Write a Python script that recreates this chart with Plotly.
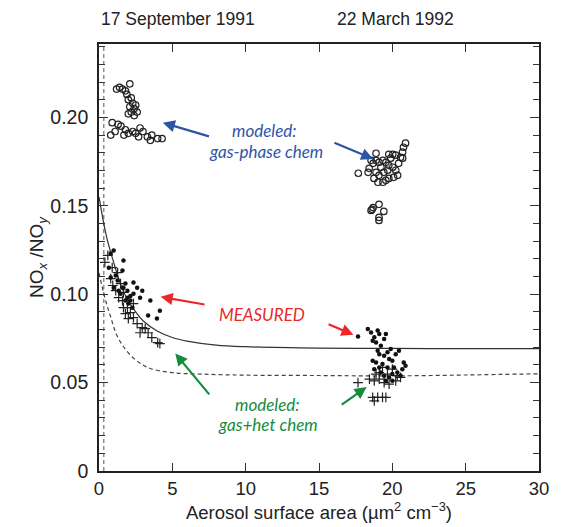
import plotly.graph_objects as go

# ---- curves ----
solid_x = [0, 0.5, 1, 1.5, 2, 2.5, 3, 4, 5, 6, 8, 10, 15, 20, 25, 30]
solid_y = [0.155, 0.133, 0.118, 0.105, 0.096, 0.090, 0.085, 0.079, 0.0755, 0.0735, 0.0712, 0.0703, 0.0695, 0.0693, 0.0692, 0.0692]
dash_x = [0, 0.4, 0.8, 1.2, 1.7, 2.2, 2.8, 3.5, 5, 7, 10, 15, 20, 25, 30]
dash_y = [0.112, 0.098, 0.087, 0.077, 0.070, 0.065, 0.061, 0.058, 0.0556, 0.0548, 0.0542, 0.054, 0.0538, 0.0543, 0.055]
vdash_x = [0.33, 0.33]
vdash_y = [0.0, 0.24]

# ---- modeled gas-phase (open circles) ----
gas_x = [1.2, 1.4, 1.6, 1.8, 2.1, 1.9, 2.0, 2.2, 2.3, 2.1, 2.4, 2.5, 2.2, 2.4, 2.6, 2.0,
         0.9, 1.1, 0.8, 1.5, 1.8, 1.7, 2.0, 2.3, 2.5, 2.8, 3.0, 3.3, 3.6, 3.5, 4.0, 4.3, 1.3, 2.7,
         20.9, 20.76, 20.7, 20.56, 20.23, 20.03, 19.76, 18.89, 18.55, 18.69, 18.35, 17.68, 18.42,
         18.89, 19.09, 19.36, 19.56, 19.76, 20.03, 20.23, 20.36, 20.09, 19.76, 19.56, 19.36, 19.02,
         18.75, 19.09, 19.42, 19.69, 18.89, 19.22, 19.89, 20.43, 20.7,
         18.55, 18.69, 19.09, 19.42, 19.09, 19.09, 18.62]
gas_y = [0.216, 0.217, 0.216, 0.215, 0.219, 0.213, 0.210, 0.211, 0.208, 0.206, 0.205, 0.207, 0.203, 0.201, 0.203, 0.202,
         0.197, 0.192, 0.190, 0.195, 0.193, 0.190, 0.191, 0.192, 0.191, 0.194, 0.192, 0.189, 0.190, 0.187, 0.188, 0.188, 0.196, 0.189,
         0.1854, 0.1831, 0.1803, 0.1774, 0.1786, 0.1791, 0.1791, 0.1797, 0.1757, 0.174, 0.1689, 0.1684, 0.1712,
         0.1757, 0.1746, 0.1757, 0.1746, 0.1729, 0.1718, 0.1701, 0.1672, 0.1661, 0.1655, 0.1644, 0.1633, 0.1633,
         0.1655, 0.1672, 0.1689, 0.1701, 0.1689, 0.1718, 0.1769, 0.174, 0.1769,
         0.1474, 0.149, 0.1508, 0.1468, 0.1434, 0.1417, 0.148]

# ---- measured (filled dots) ----
meas_x = [0.8, 1.0, 1.67, 0.67, 1.6, 2.35, 2.95, 2.8, 3.5, 4.15, 3.35, 3.95, 1.94, 2.14, 1.67, 1.27,
          1.0, 1.47, 2.0, 2.28, 1.8, 0.8, 1.34, 2.35, 2.6, 1.94, 2.14, 1.8, 1.6, 1.14,
          17.66, 18.33, 18.55, 19.0, 19.11, 18.77, 18.66, 18.89, 19.56, 19.44, 19.22, 19.0, 19.11, 19.44,
          19.67, 19.78, 20.0, 20.23, 20.45, 20.78, 20.9, 20.68, 20.34, 20.0, 19.78, 19.44, 19.11, 18.89,
          18.66, 18.77, 19.33, 19.67, 20.11, 20.56, 20.0, 19.56, 19.22, 19.89]
meas_y = [0.123, 0.1247, 0.119, 0.115, 0.1134, 0.1066, 0.102, 0.098, 0.0964, 0.0907, 0.0879, 0.0862, 0.098, 0.0964, 0.1037, 0.1077,
          0.1037, 0.1003, 0.0947, 0.0924, 0.106, 0.1094, 0.102, 0.1003, 0.1037, 0.102, 0.099, 0.0964, 0.1037, 0.1105,
          0.076, 0.0803, 0.0784, 0.0794, 0.0775, 0.0756, 0.0737, 0.0727, 0.0775, 0.0747, 0.0709, 0.068, 0.0661, 0.0652,
          0.0671, 0.0633, 0.0624, 0.0661, 0.068, 0.0614, 0.0595, 0.0576, 0.0557, 0.0548, 0.0529, 0.0539, 0.0586, 0.0614,
          0.0624, 0.0576, 0.0605, 0.0586, 0.0586, 0.0539, 0.051, 0.051, 0.0557, 0.069]

# ---- modeled gas+het (crosses) ----
het_x = [0.8, 1.27, 1.47, 1.67, 1.94, 1.8, 2.35, 2.6, 2.95, 3.35, 3.6, 4.0, 4.15, 2.14, 1.6, 1.14,
         0.94, 1.34, 2.0, 1.67, 2.35, 2.8, 3.15, 0.4, 0.6, 0.9,
         17.66, 18.44, 18.77, 19.11, 19.44, 19.78, 20.23, 20.56, 18.66, 19.0, 19.33, 19.56, 18.77,
         19.11, 19.67, 20.0, 19.33, 20.34, 18.89]
het_y = [0.1088, 0.1122, 0.106, 0.101, 0.0924, 0.089, 0.0867, 0.0833, 0.0811, 0.0782, 0.0754, 0.0726, 0.072, 0.0896, 0.0964, 0.102,
         0.1049, 0.098, 0.0862, 0.0924, 0.0947, 0.0782, 0.0805, 0.118, 0.122, 0.115,
         0.05, 0.052, 0.051, 0.052, 0.05, 0.0491, 0.051, 0.0529, 0.0416, 0.0416, 0.0416, 0.0416, 0.0397,
         0.0557, 0.0548, 0.0576, 0.0586, 0.0539, 0.0548]

x_ticks = [0, 5, 10, 15, 20, 25, 30]
y_ticks = [0, 0.05, 0.10, 0.15, 0.20]
y_ticklabels = ["0", "0.05", "0.10", "0.15", "0.20"]

fig = go.Figure()
fig.add_trace(go.Scatter(x=vdash_x, y=vdash_y, mode="lines",
                         line=dict(color="#555", width=1, dash="4px,3px"), hoverinfo="skip"))
fig.add_trace(go.Scatter(x=solid_x, y=solid_y, mode="lines", line=dict(color="#333", width=1.2, shape="spline")))
fig.add_trace(go.Scatter(x=dash_x, y=dash_y, mode="lines",
                         line=dict(color="#444", width=1.2, dash="4px,3px", shape="spline")))
fig.add_trace(go.Scatter(x=gas_x, y=gas_y, mode="markers",
                         marker=dict(symbol="circle-open", size=6.5, color="#222", line=dict(width=1.2))))
fig.add_trace(go.Scatter(x=het_x, y=het_y, mode="markers",
                         marker=dict(symbol="cross-thin-open", size=7, color="#222", line=dict(width=1.2, color="#222"))))
fig.add_trace(go.Scatter(x=meas_x, y=meas_y, mode="markers",
                         marker=dict(symbol="circle", size=4.5, color="#111")))

blue = "rgb(46,84,166)"
red = "rgb(235,40,40)"
green = "rgb(20,140,60)"
afont = "Lato"

ann = []
def arrow(hx, hy, tx, ty, color):
    ann.append(dict(x=hx, y=hy, ax=tx, ay=ty, xref="x", yref="y", axref="x", ayref="y",
                    showarrow=True, arrowhead=2, arrowsize=1.1, arrowwidth=2.2, arrowcolor=color, text=""))

def label(x, y, text, color):
    ann.append(dict(x=x, y=y, xref="x", yref="y", text=text, showarrow=False,
                    font=dict(family=afont, size=17, color=color, style="italic")))

label(11.3, 0.1925, "modeled:", blue)
label(11.4, 0.1805, "gas-phase chem", blue)
arrow(4.35, 0.197, 7.6, 0.189, blue)
arrow(18.7, 0.1765, 15.95, 0.186, blue)

label(11.1, 0.0885, "MEASURED", red)
arrow(4.2, 0.0985, 7.3, 0.094, red)
arrow(17.35, 0.077, 15.55, 0.0833, red)

label(11.5, 0.0375, "modeled:", green)
label(11.5, 0.0264, "gas+het chem", green)
arrow(5.2, 0.0665, 7.6, 0.0425, green)
arrow(18.25, 0.0475, 16.45, 0.037, green)

ann.append(dict(x=5.4, y=1.058, xref="x", yref="paper", text="17 September 1991", showarrow=False,
                font=dict(family="Liberation Sans", size=17.5, color="#222"), yanchor="middle"))
ann.append(dict(x=20.2, y=1.058, xref="x", yref="paper", text="22 March 1992", showarrow=False,
                font=dict(family="Liberation Sans", size=17.5, color="#222"), yanchor="middle"))

fig.update_layout(
    width=561, height=527,
    margin=dict(l=99, r=14, t=44, b=56),
    paper_bgcolor="white", plot_bgcolor="white",
    showlegend=False,
    annotations=ann,
    font=dict(family="Liberation Sans", size=17, color="#222"),
)
fig.update_xaxes(range=[0, 30], tickvals=x_ticks, ticks="inside", ticklen=8, tickwidth=1.2, tickcolor="#333",
                 showline=True, linewidth=1.6, linecolor="#222", mirror="ticks", showgrid=False, zeroline=False,
                 tickfont=dict(size=18.5), ticklabelstandoff=0,
                 title=dict(text="Aerosol surface area (µm<sup>2</sup> cm<sup>−3</sup>)", font=dict(size=18.5), standoff=3))
fig.update_yaxes(range=[0, 0.2415], tickvals=y_ticks, ticktext=y_ticklabels, ticks="inside", ticklen=9, tickwidth=1.2,
                 tickcolor="#333", showline=True, linewidth=1.6, linecolor="#222", mirror="ticks", showgrid=False,
                 zeroline=False, tickfont=dict(size=19.5), ticklabelstandoff=5,
                 minor=dict(dtick=0.01, ticks="inside", ticklen=6, tickwidth=1, tickcolor="#333"),
                 title=dict(text="NO<sub><i>x</i></sub> /NO<sub><i>y</i></sub>", font=dict(size=19), standoff=2))

# remove default page margin so the 561x527 figure fills the window exactly
fig.write_html("out.html", config={"displayModeBar": False},
               post_script="document.body.style.margin='0';document.body.style.overflow='hidden';")
